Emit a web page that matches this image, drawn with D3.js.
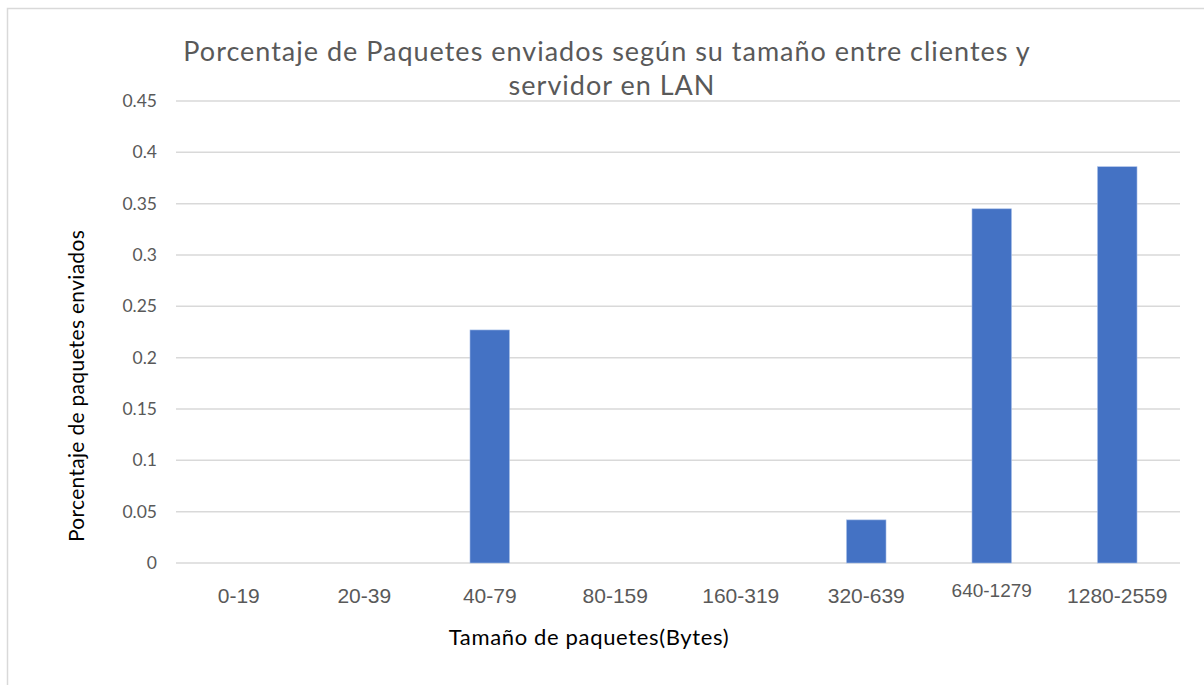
<!DOCTYPE html>
<html>
<head>
<meta charset="utf-8">
<script src="https://cdn.jsdelivr.net/npm/d3@7"></script>
<style>
  body { margin: 0; background: #fff; }
  text { font-family: Lato, "Open Sans", sans-serif; }
</style>
</head>
<body>
<script>
var w = 1204;
var h = 685;

var categories = ['0-19', '20-39', '40-79', '80-159', '160-319', '320-639', '640-1279', '1280-2559'];
var values = [0, 0, 0.227, 0, 0, 0.042, 0.345, 0.386];
var yTicks = [0, 0.05, 0.1, 0.15, 0.2, 0.25, 0.3, 0.35, 0.4, 0.45];
var titleLines = ['Porcentaje de Paquetes enviados según su tamaño entre clientes y', 'servidor en LAN'];

var svg = d3.select('body').append('svg')
  .attr('width', w)
  .attr('height', h);

// outer frame (only left and top edges are visible in the picture)
svg.append('rect')
  .attr('x', 7.5)
  .attr('y', 8.5)
  .attr('width', w + 10)
  .attr('height', h + 10)
  .attr('fill', 'none')
  .attr('stroke', '#d9d9d9')
  .attr('stroke-width', 1.5);

var scaleX = d3.scaleBand()
  .domain(categories)
  .range([176, 1180])
  .paddingInner(0.685)
  .paddingOuter(0.3425);

var scaleY = d3.scaleLinear()
  .domain([0, 0.45])
  .range([563, 101]);

// gridlines
svg.append('g')
  .selectAll('line')
  .data(yTicks)
  .join('line')
  .attr('x1', 176)
  .attr('x2', 1180)
  .attr('y1', (d) => scaleY(d))
  .attr('y2', (d) => scaleY(d))
  .attr('stroke', '#d9d9d9')
  .attr('stroke-width', 1.5);

// y tick labels
svg.append('g')
  .selectAll('text')
  .data(yTicks)
  .join('text')
  .attr('x', 157)
  .attr('y', (d) => scaleY(d))
  .attr('dy', '0.35em')
  .attr('text-anchor', 'end')
  .attr('fill', '#595959')
  .style('font-size', '17.5px')
  .text((d) => d === 0 ? '0' : String(+d.toFixed(2)));

// bars
svg.append('g')
  .selectAll('rect')
  .data(values.map((v, i) => ({ cat: categories[i], v: v })).filter((d) => d.v > 0))
  .join('rect')
  .attr('x', (d) => scaleX(d.cat))
  .attr('y', (d) => scaleY(d.v))
  .attr('width', scaleX.bandwidth())
  .attr('height', (d) => scaleY(0) - scaleY(d.v))
  .attr('fill', '#4472c4')
  .attr('stroke', '#a9c0e8')
  .attr('stroke-width', 0.6);

// x tick labels
svg.append('g')
  .selectAll('text')
  .data(categories)
  .join('text')
  .attr('x', (d) => scaleX(d) + scaleX.bandwidth() / 2)
  .attr('y', (d) => d === '640-1279' ? 597 : 603)
  .attr('text-anchor', 'middle')
  .attr('fill', '#595959')
  .style('font-family', '"Liberation Sans", Arial, sans-serif')
  .style('font-size', (d) => d === '640-1279' ? '19px' : '21px')
  .text((d) => d);

// title
svg.append('g')
  .selectAll('text')
  .data(titleLines)
  .join('text')
  .attr('x', (d, i) => i === 0 ? 607 : 612)
  .attr('y', (d, i) => 61 + i * 34)
  .attr('text-anchor', 'middle')
  .attr('fill', '#595959')
  .style('font-size', '27px')
  .style('letter-spacing', '1px')
  .text((d) => d);

// axis titles
svg.append('text')
  .attr('x', 589)
  .attr('y', 645)
  .attr('text-anchor', 'middle')
  .attr('fill', '#000')
  .style('font-size', '22px')
  .style('letter-spacing', '0.65px')
  .text('Tamaño de paquetes(Bytes)');

svg.append('text')
  .attr('transform', 'translate(84,386) rotate(-90)')
  .attr('text-anchor', 'middle')
  .attr('fill', '#000')
  .style('font-size', '21px')
  .style('letter-spacing', '0.3px')
  .text('Porcentaje de paquetes enviados');
</script>
</body>
</html>
